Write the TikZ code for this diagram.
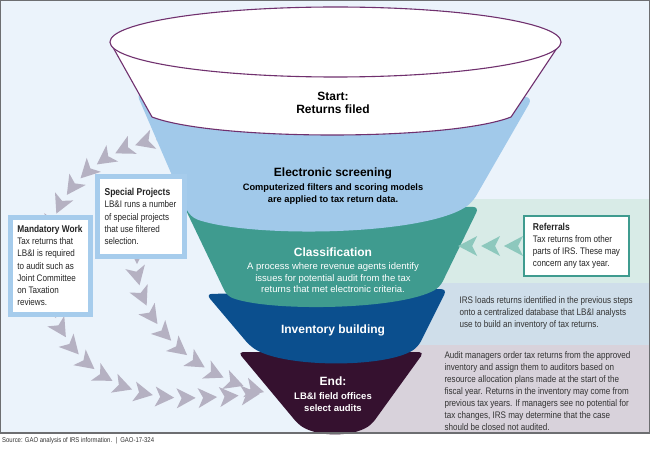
\documentclass[tikz,border=0pt]{standalone}
\usepackage{fontspec}
\setmainfont{Liberation Sans}
\newfontfamily\narrowfont{Liberation Sans}[FakeStretch=0.85]
\usetikzlibrary{decorations.markings}

\definecolor{pagebg}{HTML}{EBF3FB}
\definecolor{framegray}{HTML}{6D6E71}
\definecolor{funnelpurple}{HTML}{70306E}
\definecolor{screenblue}{HTML}{A1C9EA}
\definecolor{classteal}{HTML}{3F9B8F}
\definecolor{invblue}{HTML}{0B4F8E}
\definecolor{endpurple}{HTML}{35112F}
\definecolor{refband}{HTML}{D8EBE7}
\definecolor{loadband}{HTML}{CFDEEA}
\definecolor{auditband}{HTML}{D8D2DB}
\definecolor{boxblue}{HTML}{A6CCEC}
\definecolor{arrowgray}{HTML}{B5B1C2}
\definecolor{refarrow}{HTML}{8DC8BD}
\definecolor{textgray}{HTML}{333333}

\begin{document}
\begin{tikzpicture}[x=1pt, y=-1pt,
  funnelline/.style={draw=funnelpurple, line width=1.1pt},
  chevrons/.style 2 args={decoration={markings,
      mark=between positions 0 and 1 step #2 with {\fill[#1] (0,0) -- (-19,-10) -- (-14,0) -- (-19,10) -- cycle;}}, decorate},
  boxtext/.style={font=\narrowfont\fontsize{9.5}{12.2}\selectfont, align=left, text=textgray!70!black},
  bandtext/.style={font=\narrowfont\fontsize{9.5}{12}\selectfont, align=left, text=textgray},
  steptitle/.style={font=\fontsize{12}{13.5}\selectfont\bfseries, align=center},
  stepbody/.style={font=\fontsize{9.5}{11.5}\selectfont, align=center}]

  \useasboundingbox (0,0) rectangle (650,449);
  \fill[white] (0,0) rectangle (650,449);
  \fill[pagebg] (1,1) rectangle (649,433);
  \fill[refband] (335,199) rectangle (649,283);
  \fill[loadband] (335,283) rectangle (649,345);
  \fill[auditband] (335,345) rectangle (649,433);

  \coordinate (topleft) at (156,140);
  \coordinate (specialout) at (137,264);
  \coordinate (finishin) at (268,393);
  \coordinate (refin) at (458,246);

  \path[chevrons={arrowgray}{21.5pt}] (topleft) .. controls (100,150) and (50,190) .. (45,260)
    .. controls (45,340) and (100,398) .. (185,398) .. controls (215,398) and (245,395) .. (finishin);
  \path[chevrons={arrowgray}{21.5pt}] (specialout) .. controls (137,320) and (190,375) .. (finishin);

  \fill[endpurple, rounded corners=5pt] (238,352) -- (298,424) .. controls (318,437) and (352,437) .. (372,424) -- (424,352) -- cycle;
  \fill[invblue, rounded corners=6pt] (206,294) -- (250,346) .. controls (285,368) and (385,368) .. (418,347) -- (447,289) -- cycle;
  \fill[classteal, rounded corners=6pt] (182,202) -- (227,296) .. controls (270,312) and (400,310) .. (440,287) -- (479,207) -- cycle;
  \fill[screenblue, rounded corners=8pt] (136,92) -- (190,217) .. controls (250,238) and (420,236) .. (472,203) -- (533,97) -- cycle;
  \fill[white] (110,42) -- (152,117) .. controls (215,141) and (450,141) .. (511,117) -- (561,42) -- cycle;
  \draw[funnelline] (110,42) -- (152,117) .. controls (215,141) and (450,141) .. (511,117) -- (561,42);
  \draw[funnelline, fill=white] (335.5,42) ellipse [x radius=225.5, y radius=35];

  \node[steptitle, text=black] (start) at (333,103) {Start:\\Returns filed};
  \node[steptitle, text=black] (screening) at (333,173) {Electronic screening};
  \node[stepbody, font=\fontsize{9.3}{12}\selectfont\bfseries, text=black] (screeningtext) at (333,194)
    {Computerized filters and scoring models\\are applied to tax return data.};
  \node[steptitle, text=white] (classif) at (333,252) {Classification};
  \node[stepbody, text=white] (classiftext) at (333,278)
    {A process where revenue agents identify\\issues for potential audit from the tax\\returns that met electronic criteria.};
  \node[steptitle, text=white] (inventory) at (333,330) {Inventory building};
  \node[steptitle, text=white] (finish) at (333,381) {End:};
  \node[stepbody, font=\fontsize{9.5}{12}\selectfont\bfseries, text=white] (finishtext) at (333,402)
    {LB\&I field offices\\select audits};

  \node[draw=boxblue, line width=5pt, fill=white, minimum width=87pt, minimum height=79pt,
    boxtext, anchor=north west] (special) at (94.5,174.5)
    {{\bfseries\fontsize{10}{12.2}\selectfont Special Projects}\\LB\&I runs a number\\of special projects\\that use filtered\\selection.};
  \node[draw=boxblue, line width=5pt, fill=white, minimum width=80pt, minimum height=97pt,
    boxtext, anchor=north west] (mandatory) at (7.5,214.5)
    {{\bfseries\fontsize{9.8}{12.2}\selectfont Mandatory Work}\\Tax returns that\\LB\&I is required\\to audit such as\\Joint Committee\\on Taxation\\reviews.};

  \node[draw=classteal, line width=2pt, fill=white, minimum width=105pt, minimum height=60pt,
    boxtext, anchor=north west] (referrals) at (523,215)
    {{\bfseries\fontsize{10}{12.2}\selectfont Referrals}\\Tax returns from other\\parts of IRS. These may\\concern any tax year.};
  \path[chevrons={refarrow}{22.9pt}] ([xshift=-19pt]referrals.west) -- (refin);

  \node[bandtext, anchor=west] (loads) at (456,313)
    {IRS loads returns identified in the previous steps\\onto a centralized database that LB\&I analysts\\use to build an inventory of tax returns.};
  \node[bandtext, anchor=west] (audit) at (441,391)
    {Audit managers order tax returns from the approved\\inventory and assign them to auditors based on\\resource allocation plans made at the start of the\\fiscal year. Returns in the inventory may come from\\previous tax years. If managers see no potential for\\tax changes, IRS may determine that the case\\should be closed not audited.};

  \draw[framegray, line width=1.2pt] (0.6,0.6) rectangle (649.4,433);
  \node[font=\narrowfont\fontsize{7}{8}\selectfont, text=textgray, anchor=west, inner sep=0pt] (source) at (2,441)
    {Source: GAO analysis of IRS information.~~|~~GAO-17-324};
\end{tikzpicture}
\end{document}
